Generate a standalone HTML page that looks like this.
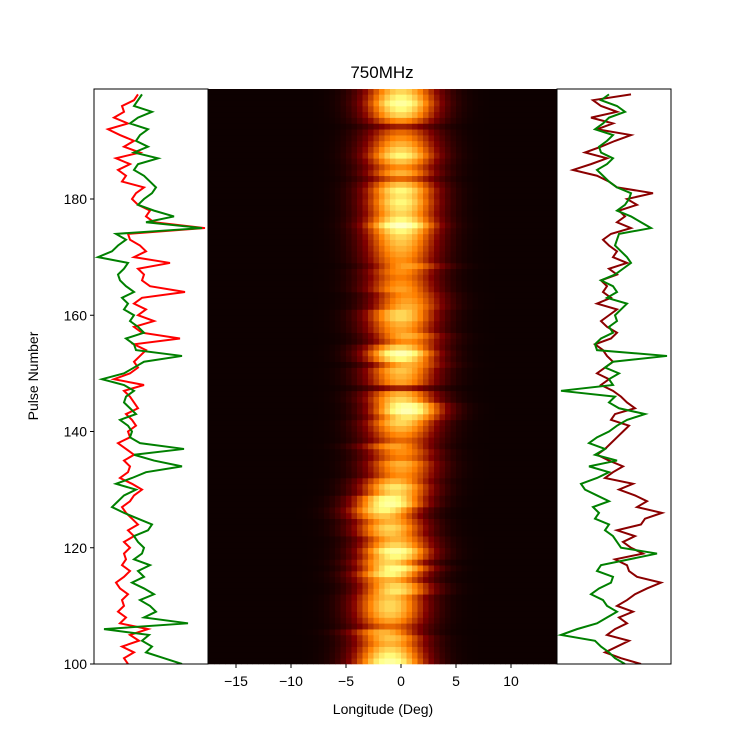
<!DOCTYPE html>
<html><head><meta charset="utf-8"><style>
html,body{margin:0;padding:0;background:#fff;}
svg{display:block;font-family:"Liberation Sans","DejaVu Sans",sans-serif;}
</style></head><body>
<svg id="chart" width="747" height="747" viewBox="0 0 747 747" xmlns="http://www.w3.org/2000/svg">
<rect width="747" height="747" fill="#fff"/>
<text x="382" y="78" font-size="17" text-anchor="middle">750MHz</text>
<g id="heat"></g>
<g id="lines"></g>
<g id="axes"></g>
<text transform="translate(38,376) rotate(-90)" font-size="14" text-anchor="middle">Pulse Number</text>
<text x="383" y="714" font-size="14" text-anchor="middle">Longitude (Deg)</text>
</svg>
<script>
const pulseStart = 100;
const intensity = [1.1,1.0,0.9,0.8,0.85,0.8,0.6,0.75,0.85,0.9,
0.9,0.85,0.95,0.9,0.8,1.0,1.05,0.9,1.0,1.1,
0.9,0.8,0.85,0.9,0.8,0.85,1.0,1.1,1.05,0.9,
0.95,0.8,0.7,0.75,0.8,0.65,0.7,0.75,0.6,0.7,
0.8,0.9,0.95,1.15,1.1,0.9,0.8,0.4,0.75,0.8,
0.85,0.8,1.0,1.15,0.9,0.7,0.8,0.75,0.8,0.9,
0.9,0.8,0.75,0.7,0.75,0.7,0.65,0.7,0.75,0.7,
0.75,0.8,0.85,0.9,1.0,1.2,1.0,0.9,0.95,1.0,
0.95,1.0,0.85,0.6,0.8,0.7,0.85,1.0,0.9,0.8,
0.7,0.6,0.4,0.7,0.9,1.0,1.1,1.0,0.9];
const centers = [-1,-1,-1,-1,-1,-1.5,-1,-1,-1,-1,
-1,-1,-0.5,-0.5,-1,-1,-0.5,-1,-0.5,-0.5,
-0.5,-0.5,-1,-1,-1,-1.5,-1.5,-1,-1,-0.5,
-0.5,-0.5,0,0,0,0,0,-0.5,0,0,
0,0,0.5,0.5,0.5,0,0,0,0,0,
0,0.5,0,0,0,0.5,0.5,0,0,0,
0,0.5,0.5,0.5,0,0,0,0,0.5,0,
0,0,0,0,0,0,0,0,0,0,
0,0,0,0,0,0,0,0,0,0,
0,0,0,0,0,0,0,0,0];
const redLeft = [34,30,40,28,45,36,54,26,32,24,30,28,34,26,22,30,36,28,32,30,36,30,40,34,44,38,32,28,36,40,48,38,26,34,36,30,40,32,24,36,34,42,38,32,44,40,36,30,50,20,36,44,40,46,52,40,86,48,40,60,44,52,40,48,91,56,48,50,44,76,40,52,46,36,34,111,60,52,56,44,38,42,50,28,32,24,36,22,46,30,40,26,14,34,20,30,28,40,44];
const greenLeft = [88,70,52,58,48,55,10,94,50,62,56,46,60,50,38,50,44,56,40,48,50,44,40,54,58,44,30,18,24,30,42,22,38,52,88,60,40,90,46,36,38,34,26,42,36,30,32,40,30,8,30,40,50,88,42,40,32,50,44,36,40,30,34,28,40,32,26,24,30,34,4,18,24,32,22,108,52,80,60,44,50,58,62,56,50,40,44,64,40,54,42,46,54,36,44,58,40,44,48];
const redRight = [84,64,48,60,72,50,58,70,62,76,60,70,78,90,104,80,72,70,58,86,74,66,78,60,84,88,105,80,90,78,62,76,48,56,66,52,40,48,54,60,66,72,54,58,78,70,64,56,44,52,40,48,56,50,46,38,54,60,50,44,52,60,40,54,46,50,44,60,52,70,56,60,52,46,54,74,60,68,62,80,70,96,60,52,40,16,34,50,28,44,58,74,40,56,34,60,44,36,74];
const greenRight = [68,58,52,44,38,4,20,40,50,60,50,46,34,42,54,56,40,44,72,100,64,60,56,48,52,38,42,36,52,40,28,24,40,52,32,60,38,48,32,40,52,60,70,88,62,52,58,4,56,52,62,48,56,110,40,38,44,56,52,60,58,64,70,50,60,56,44,58,66,74,70,64,58,60,62,94,84,74,60,68,72,74,60,52,46,40,50,56,44,42,50,56,38,46,52,68,60,44,52];
const yTicks = [100,120,140,160,180];
const xTicks = [-15,-10,-5,0,5,10];

const NS="http://www.w3.org/2000/svg";
const top_=89,bot=664,hL=208,hR=557,lL=94,rR=671;
const yScale = p => bot - (p-100)*(bot-199)/80;
const xScale = d => 401 + d*11;
const lonMin=-17.5, lonMax=14.2, step=0.5;
function col(v){const c=x=>Math.round(255*Math.max(0,Math.min(1,x)));return `rgb(${c(2*v)},${c(2*v-0.5)},${c(2*v-1)})`;}
const heat=document.getElementById('heat');
const bg=document.createElementNS(NS,'rect');


bg.setAttribute('x',hL);bg.setAttribute('y',top_);bg.setAttribute('width',hR-hL);bg.setAttribute('height',bot-top_);bg.setAttribute('fill','rgb(12,0,0)');
heat.appendChild(bg);
for(let i=0;i<intensity.length;i++){
  const p=pulseStart+i;
  const y1=Math.max(top_,yScale(p+1)), y0=yScale(p);
  for(let d=lonMin; d<lonMax; d+=step){
    const g=Math.exp(-Math.pow(d+step/2-centers[i],2)/(2*2.3*2.3));
    const v=0.025+intensity[i]*g*0.72;
    const r=document.createElementNS(NS,'rect');
    
    
    const x0=Math.max(hL,xScale(d)), x1=Math.min(hR,xScale(d+step));
    r.setAttribute('x',x0);r.setAttribute('y',y1);
    r.setAttribute('width',Math.max(0,x1-x0)+0.3);r.setAttribute('height',y0-y1+0.3);
    r.setAttribute('fill',col(v));
    heat.appendChild(r);
  }
}
const lines=document.getElementById('lines');
function drawLine(arr,x0,color,name){
  const pts=arr.map((v,i)=>`${x0+v},${yScale(pulseStart+i)}`).join(' ');
  const pl=document.createElementNS(NS,'polyline');
  
  
  pl.setAttribute('points',pts);pl.setAttribute('fill','none');pl.setAttribute('stroke',color);pl.setAttribute('stroke-width','2');
  lines.appendChild(pl);
}
const clip=document.createElementNS(NS,'clipPath');clip.id='cp';
const cr=document.createElementNS(NS,'rect');cr.setAttribute('x',0);cr.setAttribute('y',top_);cr.setAttribute('width',747);cr.setAttribute('height',bot-top_);
clip.appendChild(cr);document.getElementById('chart').appendChild(clip);
lines.setAttribute('clip-path','url(#cp)');
drawLine(redLeft,lL,'#ff0000','left-red-profile');
drawLine(greenLeft,lL,'#008000','left-green-profile');
drawLine(redRight,hR,'#8b0000','right-darkred-profile');
drawLine(greenRight,hR,'#008000','right-green-profile');

const axes=document.getElementById('axes');
function rect(x,y,w,h,name){const r=document.createElementNS(NS,'rect');


r.setAttribute('x',x);r.setAttribute('y',y);r.setAttribute('width',w);r.setAttribute('height',h);r.setAttribute('fill','none');r.setAttribute('stroke','#000');r.setAttribute('stroke-width','1');axes.appendChild(r);}
rect(lL,top_,hL-lL,bot-top_,'left-panel-frame');
rect(hR,top_,rR-hR,bot-top_,'right-panel-frame');
yTicks.forEach(t=>{const y=yScale(t);
 const l=document.createElementNS(NS,'line');
 
 
 l.setAttribute('x1',lL-4);l.setAttribute('x2',lL);l.setAttribute('y1',y);l.setAttribute('y2',y);l.setAttribute('stroke','#000');axes.appendChild(l);
 const tx=document.createElementNS(NS,'text');
 
 
 tx.setAttribute('x',lL-7);tx.setAttribute('y',y+5);tx.setAttribute('font-size','14');tx.setAttribute('text-anchor','end');tx.textContent=t;axes.appendChild(tx);});
xTicks.forEach(t=>{const x=xScale(t);
 const l=document.createElementNS(NS,'line');
 
 
 l.setAttribute('x1',x);l.setAttribute('x2',x);l.setAttribute('y1',bot);l.setAttribute('y2',bot+4);l.setAttribute('stroke','#000');axes.appendChild(l);
 const tx=document.createElementNS(NS,'text');
 
 
 tx.setAttribute('x',x);tx.setAttribute('y',bot+22);tx.setAttribute('font-size','14');tx.setAttribute('text-anchor','middle');tx.textContent=(t<0?'\u2212'+(-t):t);axes.appendChild(tx);});
</script>
</body></html>
